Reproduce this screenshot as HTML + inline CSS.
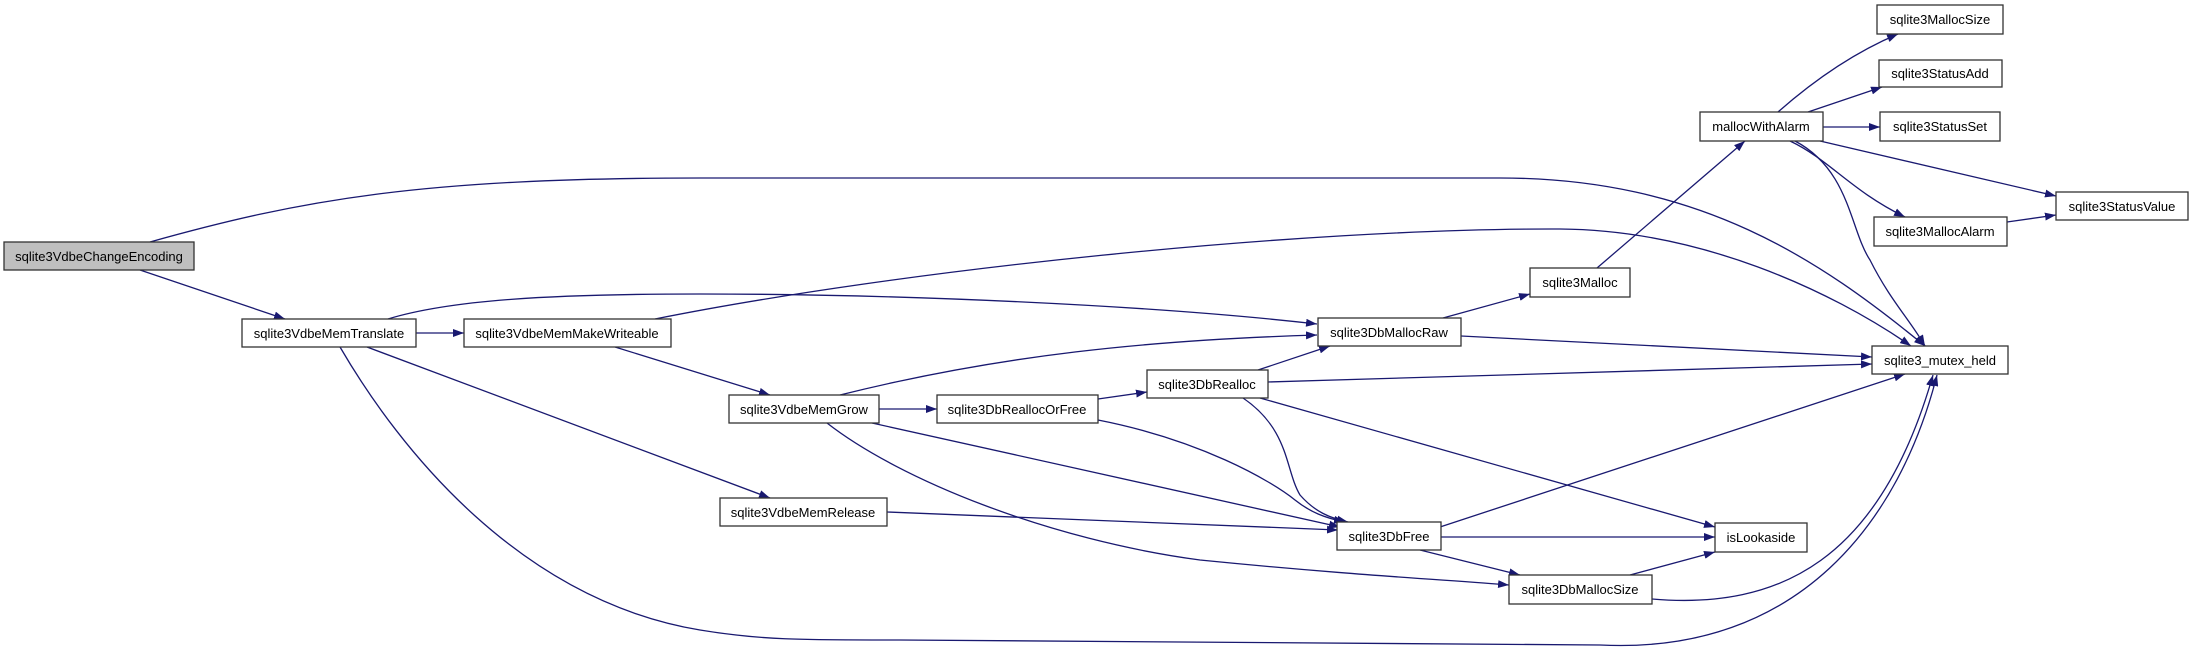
<!DOCTYPE html>
<html><head><meta charset="utf-8"><style>
html,body{margin:0;padding:0;background:#fff;}
svg{display:block;}
text{font-family:"Liberation Sans",sans-serif;font-size:13px;fill:#000;}
</style></head><body>
<svg width="2189" height="651" viewBox="0 0 2189 651" xmlns="http://www.w3.org/2000/svg">
<defs>
<marker id="a" viewBox="0 0 10 10" refX="10" refY="5" markerWidth="11" markerHeight="8" markerUnits="userSpaceOnUse" orient="auto" preserveAspectRatio="none">
<path d="M0,0 L10,5 L0,10 z" fill="#191970"/>
</marker>
</defs>
<g fill="none" stroke="#191970" stroke-width="1.3" marker-end="url(#a)">
<path d="M150,242 C300,200 420,178 700,178 L1500,178 C1700,178 1820,260 1925,346"/>
<path d="M140,270 L285,319"/>
<path d="M416,333 L464,333"/>
<path d="M388,319 C450,300 550,294 700,294 C900,294 1150,305 1317,324"/>
<path d="M367,347 L770,498"/>
<path d="M340,347 C400,450 520,600 700,630 C760,640 800,640 900,640 L1600,645 C1800,655 1900,520 1937,375"/>
<path d="M655,319 C900,270 1300,228 1560,229 C1700,230 1830,290 1911,346"/>
<path d="M615,347 L770,395"/>
<path d="M840,395 C1000,355 1150,340 1317,335"/>
<path d="M879,409 L937,409"/>
<path d="M872,423 L1340,527"/>
<path d="M827,423 C900,480 1050,540 1200,560 C1350,575 1450,580 1509,585"/>
<path d="M1098,399 L1147,392"/>
<path d="M1098,420 C1200,440 1270,480 1295,500 C1310,512 1325,518 1345,522"/>
<path d="M1243,398 C1290,430 1285,470 1300,495 C1315,512 1330,518 1348,522"/>
<path d="M1260,398 L1715,527"/>
<path d="M1258,370 L1330,346"/>
<path d="M1268,382 L1872,364"/>
<path d="M1443,318 L1530,294"/>
<path d="M1461,336 L1872,357"/>
<path d="M1597,268 L1745,141"/>
<path d="M1778,112 C1820,75 1860,50 1898,34"/>
<path d="M1808,112 L1882,87"/>
<path d="M1823,127 L1880,127"/>
<path d="M1820,141 L2056,196"/>
<path d="M1790,141 C1830,160 1850,190 1905,217"/>
<path d="M1795,141 C1850,170 1850,230 1870,260 C1890,300 1910,320 1925,346"/>
<path d="M2007,222 L2056,215"/>
<path d="M1440,527 L1905,374"/>
<path d="M1440,537 L1715,537"/>
<path d="M1420,550 L1520,575"/>
<path d="M1630,575 L1715,552"/>
<path d="M1652,599 C1780,610 1880,560 1933,375"/>
<path d="M887,512 L1338,530"/>
</g>
<g stroke="#333" stroke-width="1.3">
<rect x="4" y="242" width="190" height="28" fill="#bfbfbf"/>
<rect x="242" y="319" width="174" height="28" fill="#fff"/>
<rect x="464" y="319" width="207" height="28" fill="#fff"/>
<rect x="1318" y="318" width="143" height="28" fill="#fff"/>
<rect x="1147" y="370" width="121" height="28" fill="#fff"/>
<rect x="729" y="395" width="150" height="28" fill="#fff"/>
<rect x="937" y="395" width="161" height="28" fill="#fff"/>
<rect x="720" y="498" width="167" height="28" fill="#fff"/>
<rect x="1337" y="522" width="104" height="28" fill="#fff"/>
<rect x="1877" y="5" width="126" height="29" fill="#fff"/>
<rect x="1879" y="60" width="123" height="27" fill="#fff"/>
<rect x="1700" y="112" width="123" height="29" fill="#fff"/>
<rect x="1880" y="112" width="120" height="29" fill="#fff"/>
<rect x="2056" y="192" width="132" height="28" fill="#fff"/>
<rect x="1874" y="217" width="133" height="29" fill="#fff"/>
<rect x="1530" y="268" width="100" height="29" fill="#fff"/>
<rect x="1872" y="346" width="136" height="28" fill="#fff"/>
<rect x="1715" y="523" width="92" height="29" fill="#fff"/>
<rect x="1509" y="575" width="143" height="29" fill="#fff"/>
</g>
<g text-anchor="middle">
<text x="99" y="261">sqlite3VdbeChangeEncoding</text>
<text x="329" y="338">sqlite3VdbeMemTranslate</text>
<text x="567" y="338">sqlite3VdbeMemMakeWriteable</text>
<text x="1389" y="337">sqlite3DbMallocRaw</text>
<text x="1207" y="389">sqlite3DbRealloc</text>
<text x="804" y="414">sqlite3VdbeMemGrow</text>
<text x="1017" y="414">sqlite3DbReallocOrFree</text>
<text x="803" y="517">sqlite3VdbeMemRelease</text>
<text x="1389" y="541">sqlite3DbFree</text>
<text x="1940" y="24">sqlite3MallocSize</text>
<text x="1940" y="78">sqlite3StatusAdd</text>
<text x="1761" y="131">mallocWithAlarm</text>
<text x="1940" y="131">sqlite3StatusSet</text>
<text x="2122" y="211">sqlite3StatusValue</text>
<text x="1940" y="236">sqlite3MallocAlarm</text>
<text x="1580" y="287">sqlite3Malloc</text>
<text x="1940" y="365">sqlite3_mutex_held</text>
<text x="1761" y="542">isLookaside</text>
<text x="1580" y="594">sqlite3DbMallocSize</text>
</g>
</svg>
</body></html>
